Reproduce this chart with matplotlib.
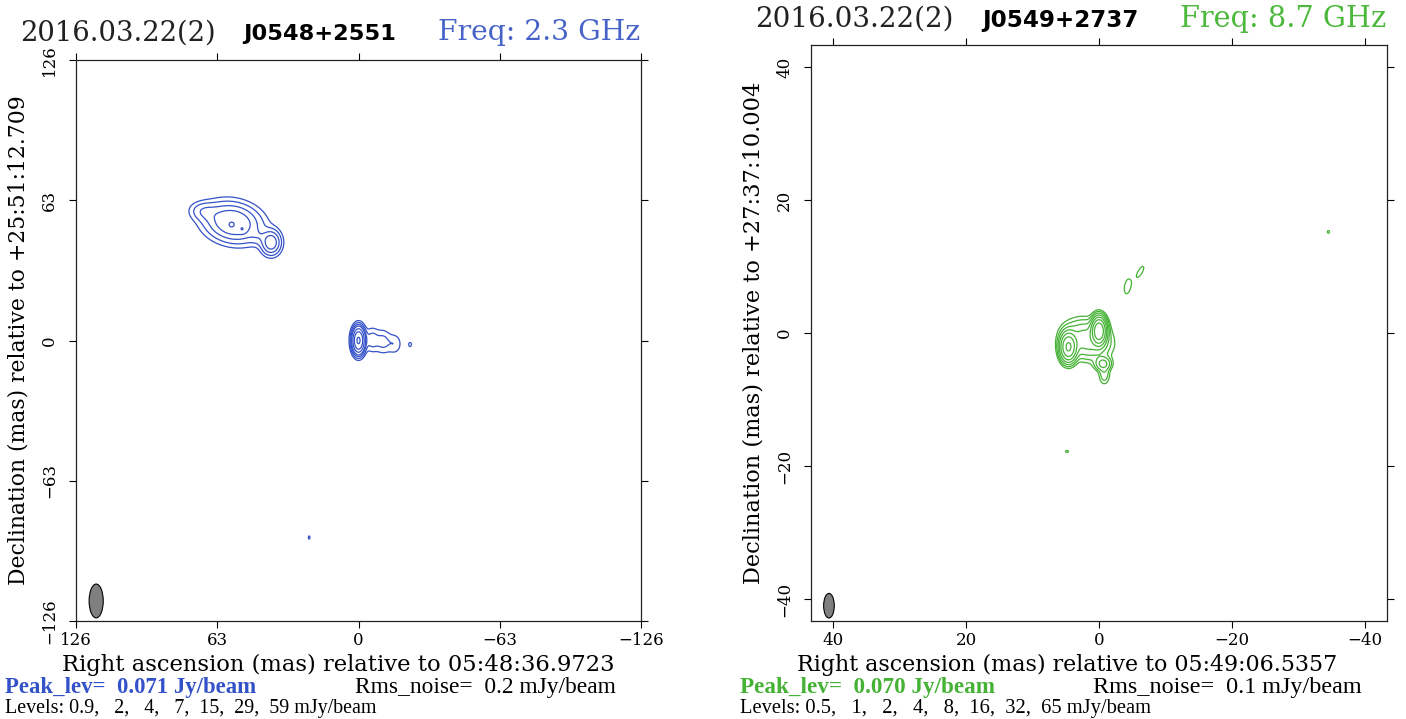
import numpy as np
import matplotlib
matplotlib.use('Agg')
import matplotlib.pyplot as plt
from matplotlib.patches import Ellipse

W, H = 1406, 719

# ---- left map: 2.3 GHz, J0548+2551 ----
levels_l = [0.9, 2, 4, 7, 15, 29, 59]          # mJy/beam
ticks_l = [126, 63, 0, -63, -126]
# gaussian components (mas, mJy/beam, FWHM mas, angle deg)
l_x = [0.0, -6.0, -11.0, -16.0, -23.0, 22.0, 69.0, 56.0, 56.7, 51.8, 39.0, 45.0]
l_y = [0.0, 0.3, -0.5, -1.5, -1.8, -88.5, 58.0, 53.0, 51.8, 50.0, 44.0, 46.5]
l_amp = [66.0, 2.8, 2.4, 1.8, 1.15, 1.05, 3.0, 12.5, 4.2, 6.2, 10.5, 1.5]
l_maj = [7.2, 8.0, 8.0, 7.0, 3.0, 3.0, 9.0, 17.0, 3.2, 2.5, 7.5, 5.0]
l_min = [3.4, 5.0, 5.0, 5.0, 2.0, 1.5, 6.0, 11.5, 3.2, 2.5, 6.0, 5.0]
l_pa = [90, 90, 90, 90, 90, 90, 5, 12, 0, 0, 90, 0]
beam_l = (117.0, -117.0, 6.3, 15.2)

# ---- right map: 8.7 GHz, J0549+2737 ----
levels_r = [0.5, 1, 2, 4, 8, 16, 32, 65]
ticks_r = [40, 20, 0, -20, -40]
r_x = [0.0, 4.6, -0.6, 1.8, -0.8, -4.3, -6.2, -34.5, 4.8]
r_y = [0.3, -2.1, -4.6, -1.0, -6.2, 7.0, 9.2, 15.2, -17.8]
r_amp = [62.0, 36.0, 5.0, 6.0, 1.6, 0.75, 0.7, 0.58, 0.58]
r_maj = [2.4, 2.6, 1.6, 4.5, 2.2, 2.9, 2.6, 0.9, 1.0]
r_min = [1.3, 1.5, 1.4, 3.6, 1.2, 1.2, 0.9, 0.7, 0.6]
r_pa = [90, 90, 0, 20, 90, 100, 120, 90, 0]
beam_r = (40.6, -41.0, 1.6, 3.7)

blue = '#3452c8'
green = '#45b235'


def model_map(xx, yy, xs, ys, amps, majs, mins, pas):
    z = np.zeros_like(xx)
    for x0, y0, a, fa, fb, pa in zip(xs, ys, amps, majs, mins, pas):
        t = np.deg2rad(pa)
        u = (xx - x0) * np.cos(t) + (yy - y0) * np.sin(t)
        v = -(xx - x0) * np.sin(t) + (yy - y0) * np.cos(t)
        z += a * np.exp(-4 * np.log(2) * ((u / fa) ** 2 + (v / fb) ** 2))
    return z


fig = plt.figure(figsize=(W / 100, H / 100), dpi=100)
renderer = fig.canvas.get_renderer()


def px_axes(l, t, r, b):
    return fig.add_axes([l / W, 1 - b / H, (r - l) / W, (b - t) / H])


def fit_text(x0, x1, y, s, fs, rot=0, **kw):
    # place text so that it spans x0..x1 (or y0..y1 when rotated), in pixels
    if rot:
        t = fig.text(y / W, 1 - (x0 + x1) / 2 / H, s, fontsize=fs, rotation=90,
                     ha='center', va='center', **kw)
        size = t.get_window_extent(renderer).height
    else:
        t = fig.text(x0 / W, 1 - y / H, s, fontsize=fs, ha='left', va='center', **kw)
        size = t.get_window_extent(renderer).width
    t.set_fontsize(fs * (x1 - x0) / size)
    return t


def draw_panel(box, lim, ticks, z_args, levels, color, beam):
    ax = px_axes(*box)
    n = 1400
    g = np.linspace(-lim, lim, n)
    xx, yy = np.meshgrid(g, g)
    zz = model_map(xx, yy, *z_args)
    ax.contour(xx, yy, zz, levels=levels, colors=color, linewidths=0.9)
    ax.add_patch(Ellipse(beam[:2], beam[2], beam[3], fc='#7f7f7f', ec='black', lw=0.8, zorder=5))
    ax.set_xlim(lim, -lim)
    ax.set_ylim(-lim, lim)
    ax.set_xticks(ticks)
    ax.set_yticks(ticks)
    ax.tick_params(direction='out', length=5, width=0.8, top=True, right=True,
                   labelsize=12, colors='black')
    ax.tick_params(axis='x', pad=3)
    ax.tick_params(axis='y', pad=8, labelrotation=90)
    for lab in ax.get_yticklabels():
        lab.set_va('center')
    for lab in ax.get_xticklabels() + ax.get_yticklabels():
        lab.set_fontfamily('DejaVu Serif')
    for sp in ax.spines.values():
        sp.set_linewidth(0.9)
        sp.set_color('#222222')
    return ax


draw_panel((76, 60, 641, 621), 126, ticks_l, (l_x, l_y, l_amp, l_maj, l_min, l_pa),
           levels_l, blue, beam_l)
draw_panel((811, 45, 1387, 621), 43.3, ticks_r, (r_x, r_y, r_amp, r_maj, r_min, r_pa),
           levels_r, green, beam_r)

serif = 'DejaVu Serif'
# titles
fit_text(20, 215, 33, '2016.03.22(2)', 18, family=serif, color='#222222')
fit_text(243, 395, 34, 'J0548+2551', 16, family='DejaVu Sans', weight='bold')
fit_text(438, 640, 33, 'Freq: 2.3 GHz', 18, family=serif, color='#4763c8')
fit_text(755, 953, 19, '2016.03.22(2)', 18, family=serif, color='#222222')
fit_text(982, 1138, 20, 'J0549+2737', 16, family='DejaVu Sans', weight='bold')
fit_text(1180, 1386, 19, 'Freq: 8.7 GHz', 18, family=serif, color='#4cb83c')

# axis labels
fit_text(62, 615, 665, 'Right ascension (mas) relative to 05:48:36.9723', 14, family=serif)
fit_text(797, 1338, 665, 'Right ascension (mas) relative to 05:49:06.5357', 14, family=serif)
fit_text(95, 585, 19, 'Declination (mas) relative to +25:51:12.709', 14, rot=1, family=serif)
fit_text(80, 585, 754, 'Declination (mas) relative to +27:37:10.004', 14, rot=1, family=serif)

# footer
foot = 'Liberation Serif'
fit_text(5, 256, 688, 'Peak_lev=  0.071 Jy/beam', 14, family=foot, weight='bold', color='#3452c8')
fit_text(355, 617, 688, 'Rms_noise=  0.2 mJy/beam', 14, family=foot)
fit_text(5, 378, 709, 'Levels: 0.9,   2,   4,   7,  15,  29,  59 mJy/beam', 11, family=foot)
fit_text(740, 995, 688, 'Peak_lev=  0.070 Jy/beam', 14, family=foot, weight='bold', color='#45b235')
fit_text(1093, 1362, 688, 'Rms_noise=  0.1 mJy/beam', 14, family=foot)
fit_text(740, 1153, 709, 'Levels: 0.5,   1,   2,   4,   8,  16,  32,  65 mJy/beam', 11, family=foot)

fig.savefig('out.png', dpi=100)
